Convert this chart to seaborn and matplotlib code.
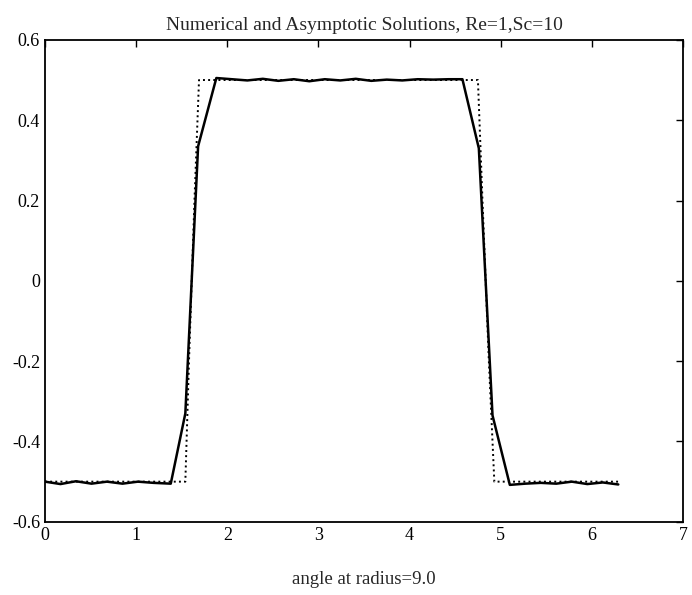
import numpy as np
import pandas as pd
import matplotlib
matplotlib.use("Agg")
import matplotlib.pyplot as plt
import seaborn as sns

# Numerical solution (solid)
num_x = [0.00, 0.17, 0.34, 0.51, 0.68, 0.85, 1.02, 1.19, 1.38,
         1.54, 1.68,
         1.88, 2.05, 2.22, 2.39, 2.56, 2.73, 2.90, 3.07, 3.24, 3.41, 3.58,
         3.75, 3.92, 4.09, 4.26, 4.43, 4.58,
         4.76, 4.91,
         5.10, 5.27, 5.44, 5.61, 5.78, 5.95, 6.12, 6.29]
num_y = [-0.500, -0.506, -0.499, -0.505, -0.500, -0.505, -0.500, -0.503, -0.505,
         -0.330, 0.335,
         0.505, 0.502, 0.499, 0.503, 0.498, 0.502, 0.497, 0.502, 0.499, 0.503, 0.498,
         0.501, 0.499, 0.502, 0.501, 0.502, 0.502,
         0.330, -0.335,
         -0.508, -0.505, -0.503, -0.505, -0.500, -0.506, -0.502, -0.507]

# Asymptotic solution (dotted)
asy_x = [0.00, 1.54, 1.58, 1.64, 1.69, 4.75, 4.80, 4.87, 4.93, 6.29]
asy_y = [-0.5, -0.5, -0.2, 0.2, 0.5, 0.5, 0.2, -0.2, -0.5, -0.5]

x_ticks = [0, 1, 2, 3, 4, 5, 6, 7]
y_ticks = [-0.6, -0.4, -0.2, 0, 0.2, 0.4, 0.6]
y_tick_labels = ["-0.6", "-0.4", "-0.2", "0", "0.2", "0.4", "0.6"]

title = "Numerical and Asymptotic Solutions, Re=1,Sc=10"
xlabel = "angle at radius=9.0"

sns.set_style("white")
plt.rcParams['font.family'] = ['Liberation Serif', 'DejaVu Serif']

fig = plt.figure(figsize=(6.92, 5.95), dpi=100)
ax = fig.add_axes([0.065, 0.123, 0.922, 0.810])

df_num = pd.DataFrame({"x": num_x, "y": num_y})
df_asy = pd.DataFrame({"x": asy_x, "y": asy_y})

sns.lineplot(data=df_asy, x="x", y="y", ax=ax, color="black", linewidth=1.4,
             linestyle=":", sort=False, estimator=None)
sns.lineplot(data=df_num, x="x", y="y", ax=ax, color="black", linewidth=1.8,
             sort=False, estimator=None)

ax.set_xlim(0, 7)
ax.set_ylim(-0.6, 0.6)
ax.set_xticks(x_ticks)
ax.set_xticklabels([str(t) for t in x_ticks])
ax.set_yticks(y_ticks)
ax.set_yticklabels(y_tick_labels)
ax.tick_params(direction="in", top=True, right=True, length=5, width=1,
               labelsize=13, colors="black")
for s in ax.spines.values():
    s.set_color("black")
    s.set_linewidth(1.3)
    s.set_visible(True)

ax.set_title(title, fontsize=14, pad=7)
ax.set_xlabel(xlabel, fontsize=13.5, labelpad=20)
ax.set_ylabel("")

fig.savefig("out.png", dpi=100, facecolor="white")
